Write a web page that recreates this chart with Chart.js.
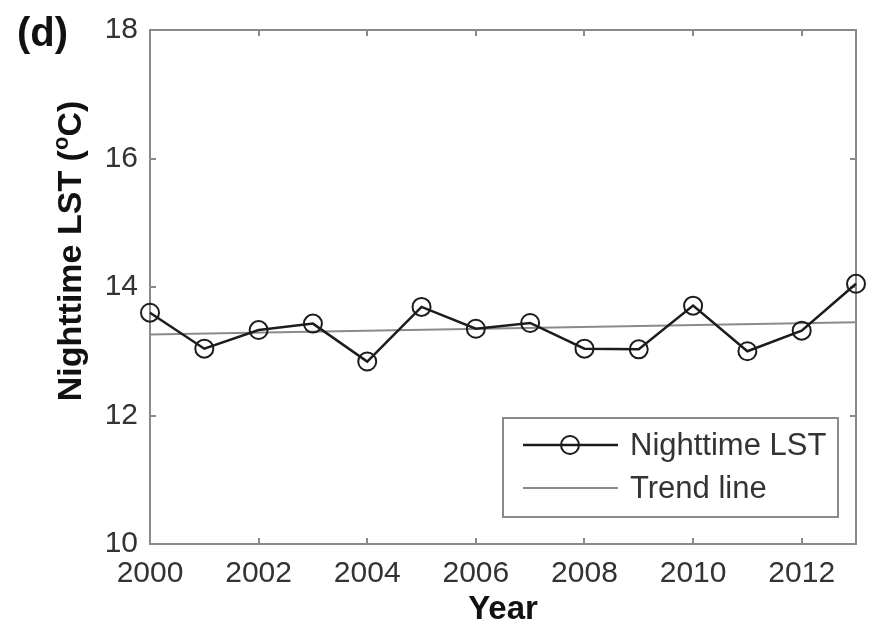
<!DOCTYPE html>
<html>
<head>
<meta charset="utf-8">
<script src="https://cdn.jsdelivr.net/npm/chart.js@4.4.1/dist/chart.umd.min.js"></script>
<style>
  html, body { margin: 0; padding: 0; background: #fff; }
  canvas { display: block; }
</style>
</head>
<body>
<canvas id="c" width="869" height="626"></canvas>
<script>
// Annual nighttime land surface temperature, 2000–2013
const years = [2000, 2001, 2002, 2003, 2004, 2005, 2006, 2007, 2008, 2009, 2010, 2011, 2012, 2013];
const nighttimeLST = [13.60, 13.04, 13.33, 13.43, 12.84, 13.69, 13.35, 13.44, 13.04, 13.03, 13.71, 13.00, 13.32, 14.05];

// Linear trend, given by its two end points
const trendYears = [2000, 2013];
const trendValues = [13.26, 13.45];

// Axis ticks and labels
const yearTicks = [2000, 2002, 2004, 2006, 2008, 2010, 2012];
const lstTicks = [10, 12, 14, 16, 18];
const panelLabel = '(d)';
const xTitle = 'Year';
const yTitleParts = ['Nighttime LST (', 'o', 'C)'];
const seriesNames = ['Nighttime LST', 'Trend line'];

const FONT = '"Liberation Sans", Arial, Helvetica, sans-serif';
const FRAME = '#8a8a8a';

// Box around the axes with inward tick marks on all four sides
const framePlugin = {
  id: 'frame',
  beforeDatasetsDraw(chart) {
    const { ctx, chartArea: a, scales: { x, y } } = chart;
    const tl = 6;
    ctx.save();
    ctx.strokeStyle = FRAME;
    ctx.lineWidth = 2;
    ctx.strokeRect(a.left, a.top, a.right - a.left, a.bottom - a.top);
    ctx.beginPath();
    yearTicks.forEach(v => {
      const px = Math.round(x.getPixelForValue(v));
      ctx.moveTo(px, a.bottom); ctx.lineTo(px, a.bottom - tl);
      ctx.moveTo(px, a.top); ctx.lineTo(px, a.top + tl);
    });
    lstTicks.forEach(v => {
      const py = Math.round(y.getPixelForValue(v));
      ctx.moveTo(a.left, py); ctx.lineTo(a.left + tl, py);
      ctx.moveTo(a.right, py); ctx.lineTo(a.right - tl, py);
    });
    ctx.stroke();
    ctx.restore();
  }
};

// Panel letter, rotated y-axis title with superscript degree, and the boxed legend
const annotatePlugin = {
  id: 'annotate',
  afterDraw(chart) {
    const { ctx } = chart;
    ctx.save();

    // panel letter
    ctx.fillStyle = '#111';
    ctx.font = 'bold 40px ' + FONT;
    ctx.textAlign = 'left';
    ctx.textBaseline = 'alphabetic';
    ctx.fillText(panelLabel, 17, 46);

    // y-axis title
    ctx.save();
    ctx.translate(81, 251);
    ctx.rotate(-Math.PI / 2);
    const big = 'bold 34px ' + FONT;
    const small = 'bold 22px ' + FONT;
    ctx.font = big;
    const w0 = ctx.measureText(yTitleParts[0]).width;
    const w2 = ctx.measureText(yTitleParts[2]).width;
    ctx.font = small;
    const w1 = ctx.measureText(yTitleParts[1]).width;
    let tx = -(w0 + w1 + w2) / 2;
    ctx.textAlign = 'left';
    ctx.font = big;
    ctx.fillText(yTitleParts[0], tx, 0);
    tx += w0;
    ctx.font = small;
    ctx.fillText(yTitleParts[1], tx, -13);
    tx += w1;
    ctx.font = big;
    ctx.fillText(yTitleParts[2], tx, 0);
    ctx.restore();

    // legend box
    const bx = 503, by = 418, bw = 335, bh = 99;
    ctx.fillStyle = '#fff';
    ctx.fillRect(bx, by, bw, bh);
    ctx.strokeStyle = FRAME;
    ctx.lineWidth = 2;
    ctx.strokeRect(bx, by, bw, bh);

    const ds = chart.data.datasets;
    const rows = [445, 488];
    ds.forEach((d, i) => {
      const ry = rows[i];
      ctx.strokeStyle = d.borderColor;
      ctx.lineWidth = d.borderWidth;
      ctx.beginPath();
      ctx.moveTo(523, ry); ctx.lineTo(618, ry);
      ctx.stroke();
      if (d.pointRadius > 0) {
        ctx.lineWidth = d.pointBorderWidth;
        ctx.strokeStyle = d.pointBorderColor;
        ctx.beginPath();
        ctx.arc(570, ry, d.pointRadius, 0, Math.PI * 2);
        ctx.stroke();
      }
      ctx.fillStyle = '#333';
      ctx.font = '31px ' + FONT;
      ctx.textAlign = 'left';
      ctx.textBaseline = 'middle';
      ctx.fillText(d.label, 630, ry + 1);
    });
    ctx.restore();
  }
};

new Chart(document.getElementById('c'), {
  type: 'line',
  data: {
    datasets: [
      {
        label: seriesNames[0],
        data: years.map((yr, i) => ({ x: yr, y: nighttimeLST[i] })),
        borderColor: '#1c1c1c',
        borderWidth: 2.5,
        pointRadius: 9,
        pointBorderWidth: 2,
        pointBorderColor: '#1c1c1c',
        pointBackgroundColor: 'rgba(0,0,0,0)',
        tension: 0,
        clip: false,
        order: 0
      },
      {
        label: seriesNames[1],
        data: trendYears.map((yr, i) => ({ x: yr, y: trendValues[i] })),
        borderColor: '#8a8a8a',
        borderWidth: 2,
        pointRadius: 0,
        pointBorderWidth: 0,
        pointBorderColor: '#8a8a8a',
        tension: 0,
        clip: false,
        order: 1
      }
    ]
  },
  options: {
    responsive: false,
    animation: false,
    devicePixelRatio: 1,
    layout: { padding: { left: 0, top: 29, right: 13, bottom: 0 } },
    plugins: {
      legend: { display: false },
      tooltip: { enabled: false }
    },
    scales: {
      x: {
        type: 'linear',
        min: 2000,
        max: 2013,
        border: { display: false },
        grid: { display: false, drawTicks: false },
        afterBuildTicks: s => { s.ticks = yearTicks.map(v => ({ value: v })); },
        afterFit: s => { s.height = 82; },
        ticks: {
          font: { family: FONT, size: 30 },
          color: '#333',
          padding: 12,
          maxRotation: 0,
          autoSkip: false,
          callback: v => String(v)
        },
        title: {
          display: true,
          text: xTitle,
          font: { family: FONT, size: 33, weight: 'bold', lineHeight: 1.0 },
          color: '#111',
          padding: { top: 0, bottom: 0 }
        }
      },
      y: {
        type: 'linear',
        min: 10,
        max: 18,
        border: { display: false },
        grid: { display: false, drawTicks: false },
        afterBuildTicks: s => { s.ticks = lstTicks.map(v => ({ value: v })); },
        afterFit: s => { s.width = 150; },
        ticks: {
          font: { family: FONT, size: 30 },
          color: '#333',
          padding: 12,
          callback: v => String(v)
        }
      }
    }
  },
  plugins: [framePlugin, annotatePlugin]
});
</script>
</body>
</html>
